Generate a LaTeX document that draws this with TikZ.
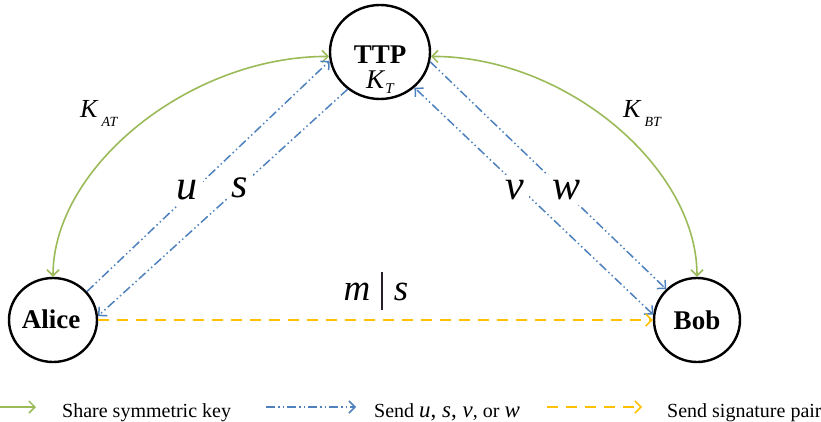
\documentclass[tikz,border=0pt]{standalone}
\usepackage{fontspec}
\setmainfont{Liberation Serif}
\usetikzlibrary{shapes.geometric,arrows.meta}
\definecolor{kgreen}{RGB}{155,187,89}
\definecolor{kblue}{RGB}{79,129,189}
\definecolor{kyellow}{RGB}{255,192,0}
\tikzset{
  vtip/.tip={Straight Barb[length=6pt,width=12pt,line width=1.5pt]},
  party/.style={draw=black, ellipse, line width=2.4pt, inner sep=0pt},
  keyline/.style={draw=kgreen, line width=1.6pt, vtip-vtip},
  sendline/.style={draw=kblue, line width=1.5pt, -vtip,
     dash pattern=on 9pt off 3pt on 1.5pt off 3pt on 1.5pt off 3pt},
  sigline/.style={draw=kyellow, line width=1.8pt, -vtip,
     dash pattern=on 11pt off 8pt},
  biglab/.style={fill=white, inner sep=5pt, font=\fontsize{42}{42}\selectfont\itshape},
  legtext/.style={anchor=base west, inner sep=0pt, font=\fontsize{20}{20}\selectfont},
}
\begin{document}
\begin{tikzpicture}[x=1pt,y=-1pt]
\useasboundingbox (0,0) rectangle (821,422);
% parties
\node[party, minimum width=100pt, minimum height=94pt] (ttp) at (380,52) {};
\node[party, minimum width=88pt, minimum height=84pt] (alice) at (53,320) {};
\node[party, minimum width=86pt, minimum height=84pt] (bob) at (697,320) {};
\node[anchor=base, font=\fontsize{27}{27}\selectfont\bfseries, inner sep=0pt] (ttpname) at (380,64) {TTP};
\node[anchor=base west, inner sep=0pt] (kt) at (366,89)
  {\fontsize{27}{27}\selectfont\textit{K}\raisebox{-5pt}{\fontsize{15}{15}\selectfont\textit{T}}};
\node[anchor=base, font=\fontsize{27}{27}\selectfont\bfseries, inner sep=0pt] (alicename) at (51,328) {Alice};
\node[anchor=base, font=\fontsize{27}{27}\selectfont\bfseries, inner sep=0pt] (bobname) at (697,329) {Bob};
% key sharing
\draw[keyline] (alice.90) .. controls (53,167) and (190,56) .. (ttp.185);
\draw[keyline] (ttp.355) .. controls (565,56) and (697,167) .. (bob.90);
\node[anchor=base west, inner sep=0pt] (kat) at (80,118)
  {\fontsize{26}{26}\selectfont\textit{K}\hspace{3pt}\raisebox{-9pt}{\fontsize{14}{14}\selectfont\textit{AT}}};
\node[anchor=base west, inner sep=0pt] (kbt) at (623,118)
  {\fontsize{26}{26}\selectfont\textit{K}\hspace{3pt}\raisebox{-9pt}{\fontsize{14}{14}\selectfont\textit{BT}}};
% sends
\draw[sendline] (alice.40) -- (ttp.190);
\draw[sendline] (ttp.229) -- (alice.5);
\draw[sendline] (ttp.349) -- (bob.135);
\draw[sendline, vtip-vtip] (bob.173) -- (ttp.314);
\node[biglab] (lu) at (187,190) {u};
\node[biglab] (ls) at (240,188) {s};
\node[biglab] (lv) at (515,190) {v};
\node[biglab] (lw) at (566,190) {w};
% signature
\draw[sigline] (alice.0) -- (bob.180);
\node[anchor=base, inner sep=0pt] (ms) at (376,300)
  {\fontsize{37}{37}\selectfont\textit{m}\hspace{11pt}\raisebox{-10pt}{\color[RGB]{40,30,40}\rule{1.4pt}{38pt}}\hspace{11pt}\textit{s}};
% legend
\coordinate (g1) at (0,407); \coordinate (g2) at (36,407);
\coordinate (b1) at (266,407); \coordinate (b2) at (356,407);
\coordinate (y1) at (547,407); \coordinate (y2) at (642,407);
\draw[keyline, -vtip] (g1) -- (g2);
\draw[sendline] (b1) -- (b2);
\draw[sigline] (y1) -- (y2);
\node[legtext] (t1) at (62,417) {Share symmetric key};
\node[legtext] (t2) at (374,417) {Send {\fontsize{23}{23}\selectfont\textit{u}, \textit{s}, \textit{v}}, or {\fontsize{23}{23}\selectfont\textit{w}}};
\node[legtext] (t3) at (667,417) {Send signature pair};
\end{tikzpicture}
\end{document}
